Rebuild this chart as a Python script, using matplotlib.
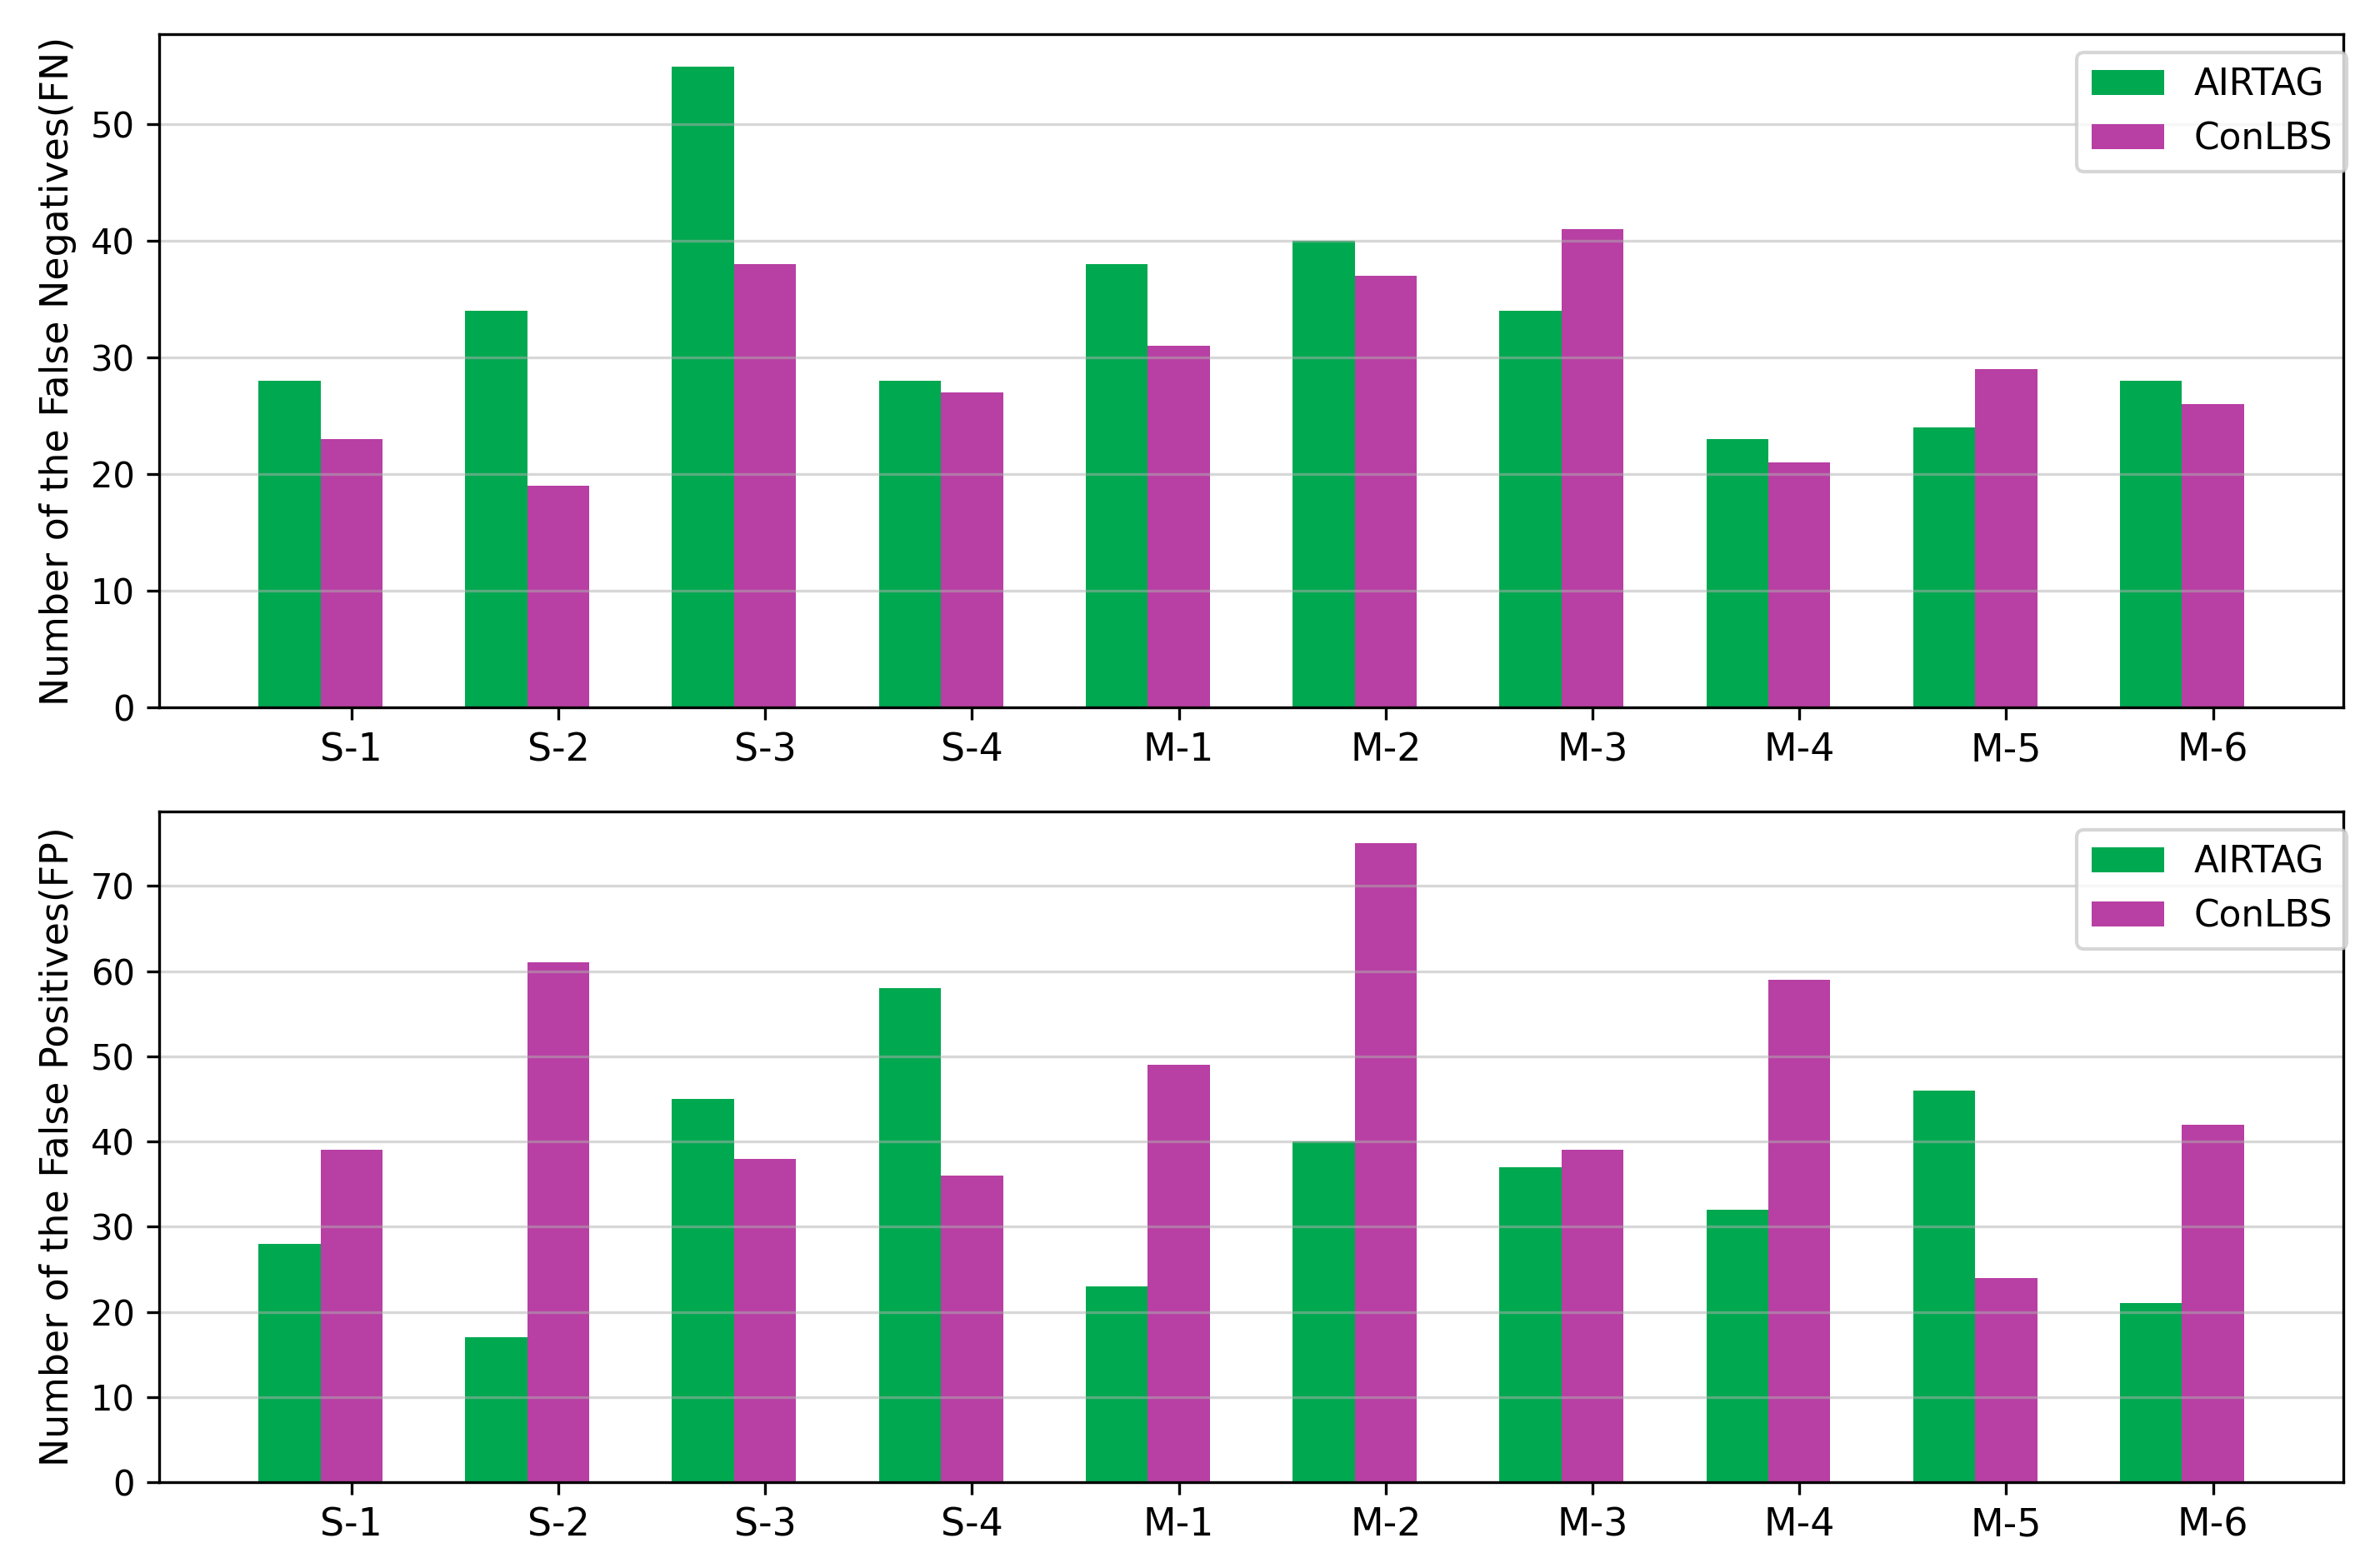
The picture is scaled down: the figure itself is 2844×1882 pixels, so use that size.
import numpy as np
import matplotlib
matplotlib.use('Agg')
import matplotlib.pyplot as plt

labels = ['S-1', 'S-2', 'S-3', 'S-4', 'M-1', 'M-2', 'M-3', 'M-4', 'M-5', 'M-6']
fn_airtag = [28, 34, 55, 28, 38, 40, 34, 23, 24, 28]
fn_conlbs = [23, 19, 38, 27, 31, 37, 41, 21, 29, 26]
fp_airtag = [28, 17, 45, 58, 23, 40, 37, 32, 46, 21]
fp_conlbs = [39, 61, 38, 36, 49, 75, 39, 59, 24, 42]

green = '#00a84f'
purple = '#b83fa3'
width = 0.3
x = np.arange(len(labels))

fig = plt.figure(figsize=(2845 / 300, 1882 / 300), dpi=300)
ax1 = fig.add_axes([0.0671, 0.5489, 0.9213, 0.4293])
ax2 = fig.add_axes([0.0671, 0.0547, 0.9213, 0.4278])

panels = [(ax1, fn_airtag, fn_conlbs, 'Number of the False Negatives(FN)'),
          (ax2, fp_airtag, fp_conlbs, 'Number of the False Positives(FP)')]

for ax, a, c, ylab in panels:
    ax.bar(x, a, width, color=green, label='AIRTAG')
    ax.bar(x + width, c, width, color=purple, label='ConLBS')
    ax.set_xticks(x + width)
    ax.set_xticklabels(labels, fontsize=11)
    ax.tick_params(axis='y', labelsize=10)
    ax.set_ylabel(ylab, fontsize=11)
    ax.grid(axis='y', alpha=0.5)
    ax.legend(loc='upper right', bbox_to_anchor=(1.01, 1.0), fontsize=10.5)

fig.savefig('out.png', dpi=300)
